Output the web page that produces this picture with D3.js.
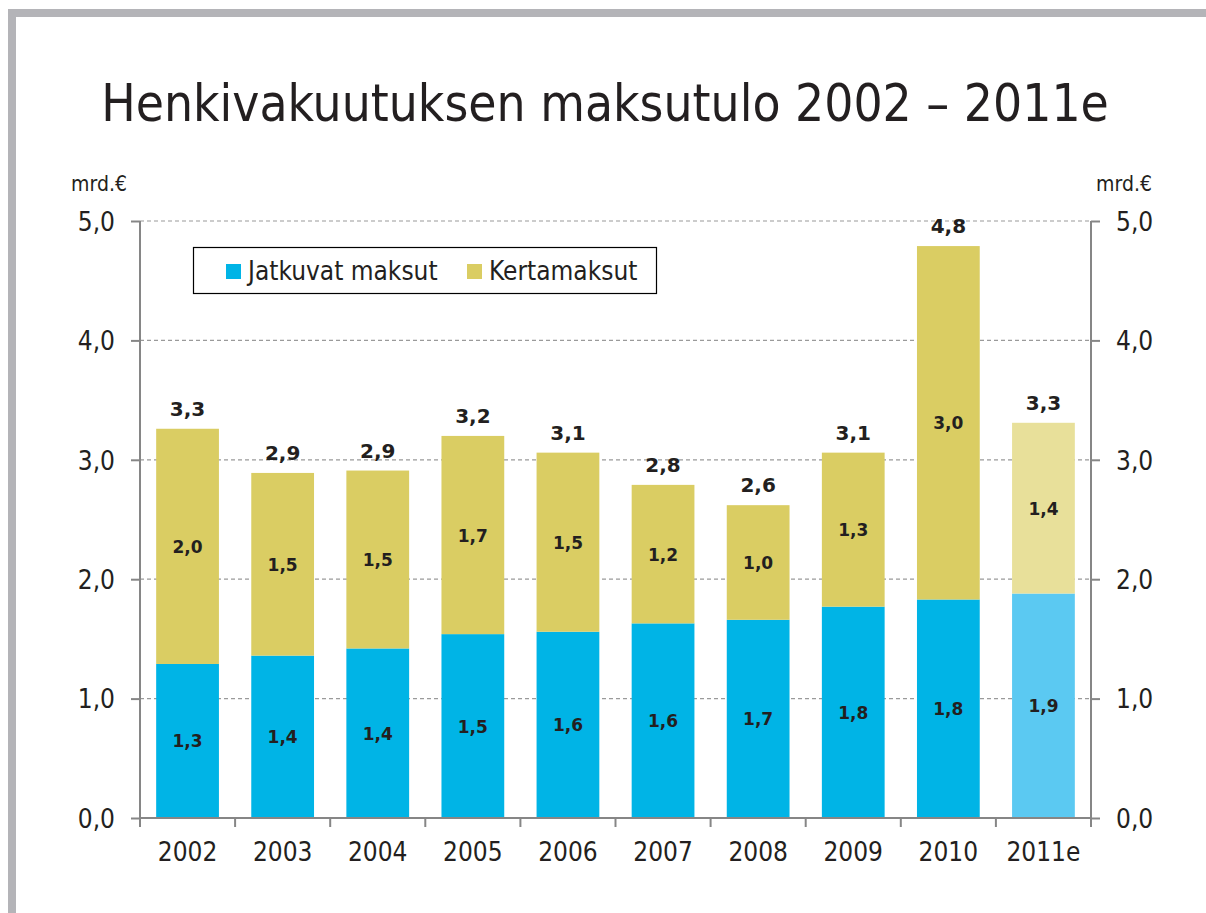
<!DOCTYPE html>
<html>
<head>
<meta charset="utf-8">
<script src="https://cdn.jsdelivr.net/npm/d3@7"></script>
<style>
  html, body { margin: 0; padding: 0; background: #fff; }
  svg { display: block; }
</style>
</head>
<body>
<div id="chart"></div>
<script>
// === DATA ===
const years = ["2002", "2003", "2004", "2005", "2006", "2007", "2008", "2009", "2010", "2011e"];
const jatkuvat = [1.29, 1.36, 1.42, 1.54, 1.56, 1.63, 1.66, 1.77, 1.83, 1.88];
const kerta = [1.97, 1.53, 1.49, 1.66, 1.50, 1.16, 0.96, 1.29, 2.96, 1.43];
const yTicks = [0, 1, 2, 3, 4, 5];
const seriesNames = ["Jatkuvat maksut", "Kertamaksut"];

const W = 1206, H = 913;
const regFont = "'DejaVu Sans Condensed', 'DejaVu Sans', sans-serif";
const boldFont = "'DejaVu Sans', sans-serif";
const fmt = v => v.toFixed(1).replace(".", ",");

// colors (estimate year is lighter)
const blue = "#00b4e6", blueLight = "#5bc9f2";
const olive = "#dacd63", oliveLight = "#e8e09a";

const svg = d3.select("#chart").append("svg")
    .attr("width", W)
    .attr("height", H);

// gray frame on top and left
svg.append("rect").attr("x", 8).attr("y", 9).attr("width", W - 8).attr("height", 8).attr("fill", "#b4b4b8");
svg.append("rect").attr("x", 8).attr("y", 9).attr("width", 8).attr("height", H - 9).attr("fill", "#b4b4b8");

// title
svg.append("text")
    .attr("x", 605)
    .attr("y", 121)
    .attr("text-anchor", "middle")
    .attr("font-family", regFont)
    .attr("font-size", "51px")
    .attr("fill", "#231f20")
    .text("Henkivakuutuksen maksutulo 2002 – 2011e");

// === SCALES ===
const x0 = 140, x1 = 1091, yBase = 818, yTop = 221;
const x = d3.scaleBand().domain(years).range([x0, x1]).paddingInner(0.34).paddingOuter(0.17);
const y = d3.scaleLinear().domain([0, 5]).range([yBase, yTop]);

// gridlines
svg.append("g")
    .selectAll("line")
    .data(yTicks.filter(d => d > 0))
    .join("line")
    .attr("x1", x0).attr("x2", x1)
    .attr("y1", d => y(d)).attr("y2", d => y(d))
    .attr("stroke", "#9a9a9a")
    .attr("stroke-width", 1.2)
    .attr("stroke-dasharray", "4,3");

// === BARS ===
const rows = years.map((yr, i) => ({ year: yr, jatkuvat: jatkuvat[i], kerta: kerta[i], est: yr.endsWith("e") }));
const stack = d3.stack().keys(["jatkuvat", "kerta"])(rows);

stack.forEach((layer, li) => {
    svg.append("g").selectAll("rect")
        .data(layer)
        .join("rect")
        .attr("x", d => x(d.data.year))
        .attr("width", x.bandwidth())
        .attr("y", d => y(d[1]))
        .attr("height", d => y(d[0]) - y(d[1]))
        .attr("fill", d => li === 0 ? (d.data.est ? blueLight : blue) : (d.data.est ? oliveLight : olive));

    // segment labels
    svg.append("g").selectAll("text")
        .data(layer)
        .join("text")
        .attr("x", d => x(d.data.year) + x.bandwidth() / 2)
        .attr("y", d => (y(d[0]) + y(d[1])) / 2 + 6.5)
        .attr("text-anchor", "middle")
        .attr("font-family", boldFont)
        .attr("font-weight", "bold")
        .attr("font-size", "17px")
        .attr("fill", "#231f20")
        .text(d => fmt(d[1] - d[0]));
});

// totals above bars
svg.append("g").selectAll("text")
    .data(rows)
    .join("text")
    .attr("x", d => x(d.year) + x.bandwidth() / 2)
    .attr("y", d => y(d.jatkuvat + d.kerta) - 13)
    .attr("text-anchor", "middle")
    .attr("font-family", boldFont)
    .attr("font-weight", "bold")
    .attr("font-size", "20px")
    .attr("fill", "#231f20")
    .text(d => fmt(d.jatkuvat + d.kerta));

// === AXES ===
const axisColor = "#868686";
const tickFmt = d => fmt(d);

const gl = svg.append("g").attr("transform", `translate(${x0},0)`)
    .call(d3.axisLeft(y).tickValues(yTicks).tickFormat(tickFmt).tickSize(9).tickPadding(16));
const gr = svg.append("g").attr("transform", `translate(${x1},0)`)
    .call(d3.axisRight(y).tickValues(yTicks).tickFormat(tickFmt).tickSize(9).tickPadding(16));
[gl, gr].forEach(g => {
    g.select(".domain").attr("stroke", axisColor).attr("stroke-width", 2).attr("d", `M0,${yTop}V${yBase}`);
    g.selectAll(".tick line").attr("stroke", axisColor).attr("stroke-width", 2);
    g.selectAll(".tick text")
        .attr("font-family", regFont)
        .attr("font-size", "26px")
        .attr("fill", "#231f20")
        .attr("dy", "0.36em");
});

// bottom axis: baseline + ticks at category boundaries
const xb = svg.append("g");
xb.append("line")
    .attr("x1", x0).attr("x2", x1).attr("y1", yBase).attr("y2", yBase)
    .attr("stroke", axisColor).attr("stroke-width", 2);
const step = x.step();
xb.selectAll("line.tk")
    .data(d3.range(years.length + 1))
    .join("line")
    .attr("class", "tk")
    .attr("x1", i => x0 + i * step).attr("x2", i => x0 + i * step)
    .attr("y1", yBase).attr("y2", yBase + 9)
    .attr("stroke", axisColor).attr("stroke-width", 2);
xb.selectAll("text")
    .data(years)
    .join("text")
    .attr("x", d => x(d) + x.bandwidth() / 2)
    .attr("y", 861)
    .attr("text-anchor", "middle")
    .attr("font-family", regFont)
    .attr("font-size", "26px")
    .attr("fill", "#231f20")
    .text(d => d);

// unit labels
[99, 1124].forEach(ux => {
    svg.append("text")
        .attr("x", ux)
        .attr("y", 191)
        .attr("text-anchor", "middle")
        .attr("font-family", regFont)
        .attr("font-size", "21px")
        .attr("fill", "#231f20")
        .text("mrd.€");
});

// === LEGEND ===
const legend = svg.append("g");
legend.append("rect")
    .attr("x", 193.5).attr("y", 247.5).attr("width", 463).attr("height", 46)
    .attr("fill", "#fff").attr("stroke", "#000").attr("stroke-width", 1.2);
const legendX = [226, 467];
seriesNames.forEach((name, i) => {
    legend.append("rect")
        .attr("x", legendX[i]).attr("y", 264)
        .attr("width", 15).attr("height", 15)
        .attr("fill", i === 0 ? blue : olive);
    legend.append("text")
        .attr("x", legendX[i] + 22)
        .attr("y", 280)
        .attr("font-family", regFont)
        .attr("font-size", "26px")
        .attr("fill", "#231f20")
        .text(name);
});
</script>
</body>
</html>
